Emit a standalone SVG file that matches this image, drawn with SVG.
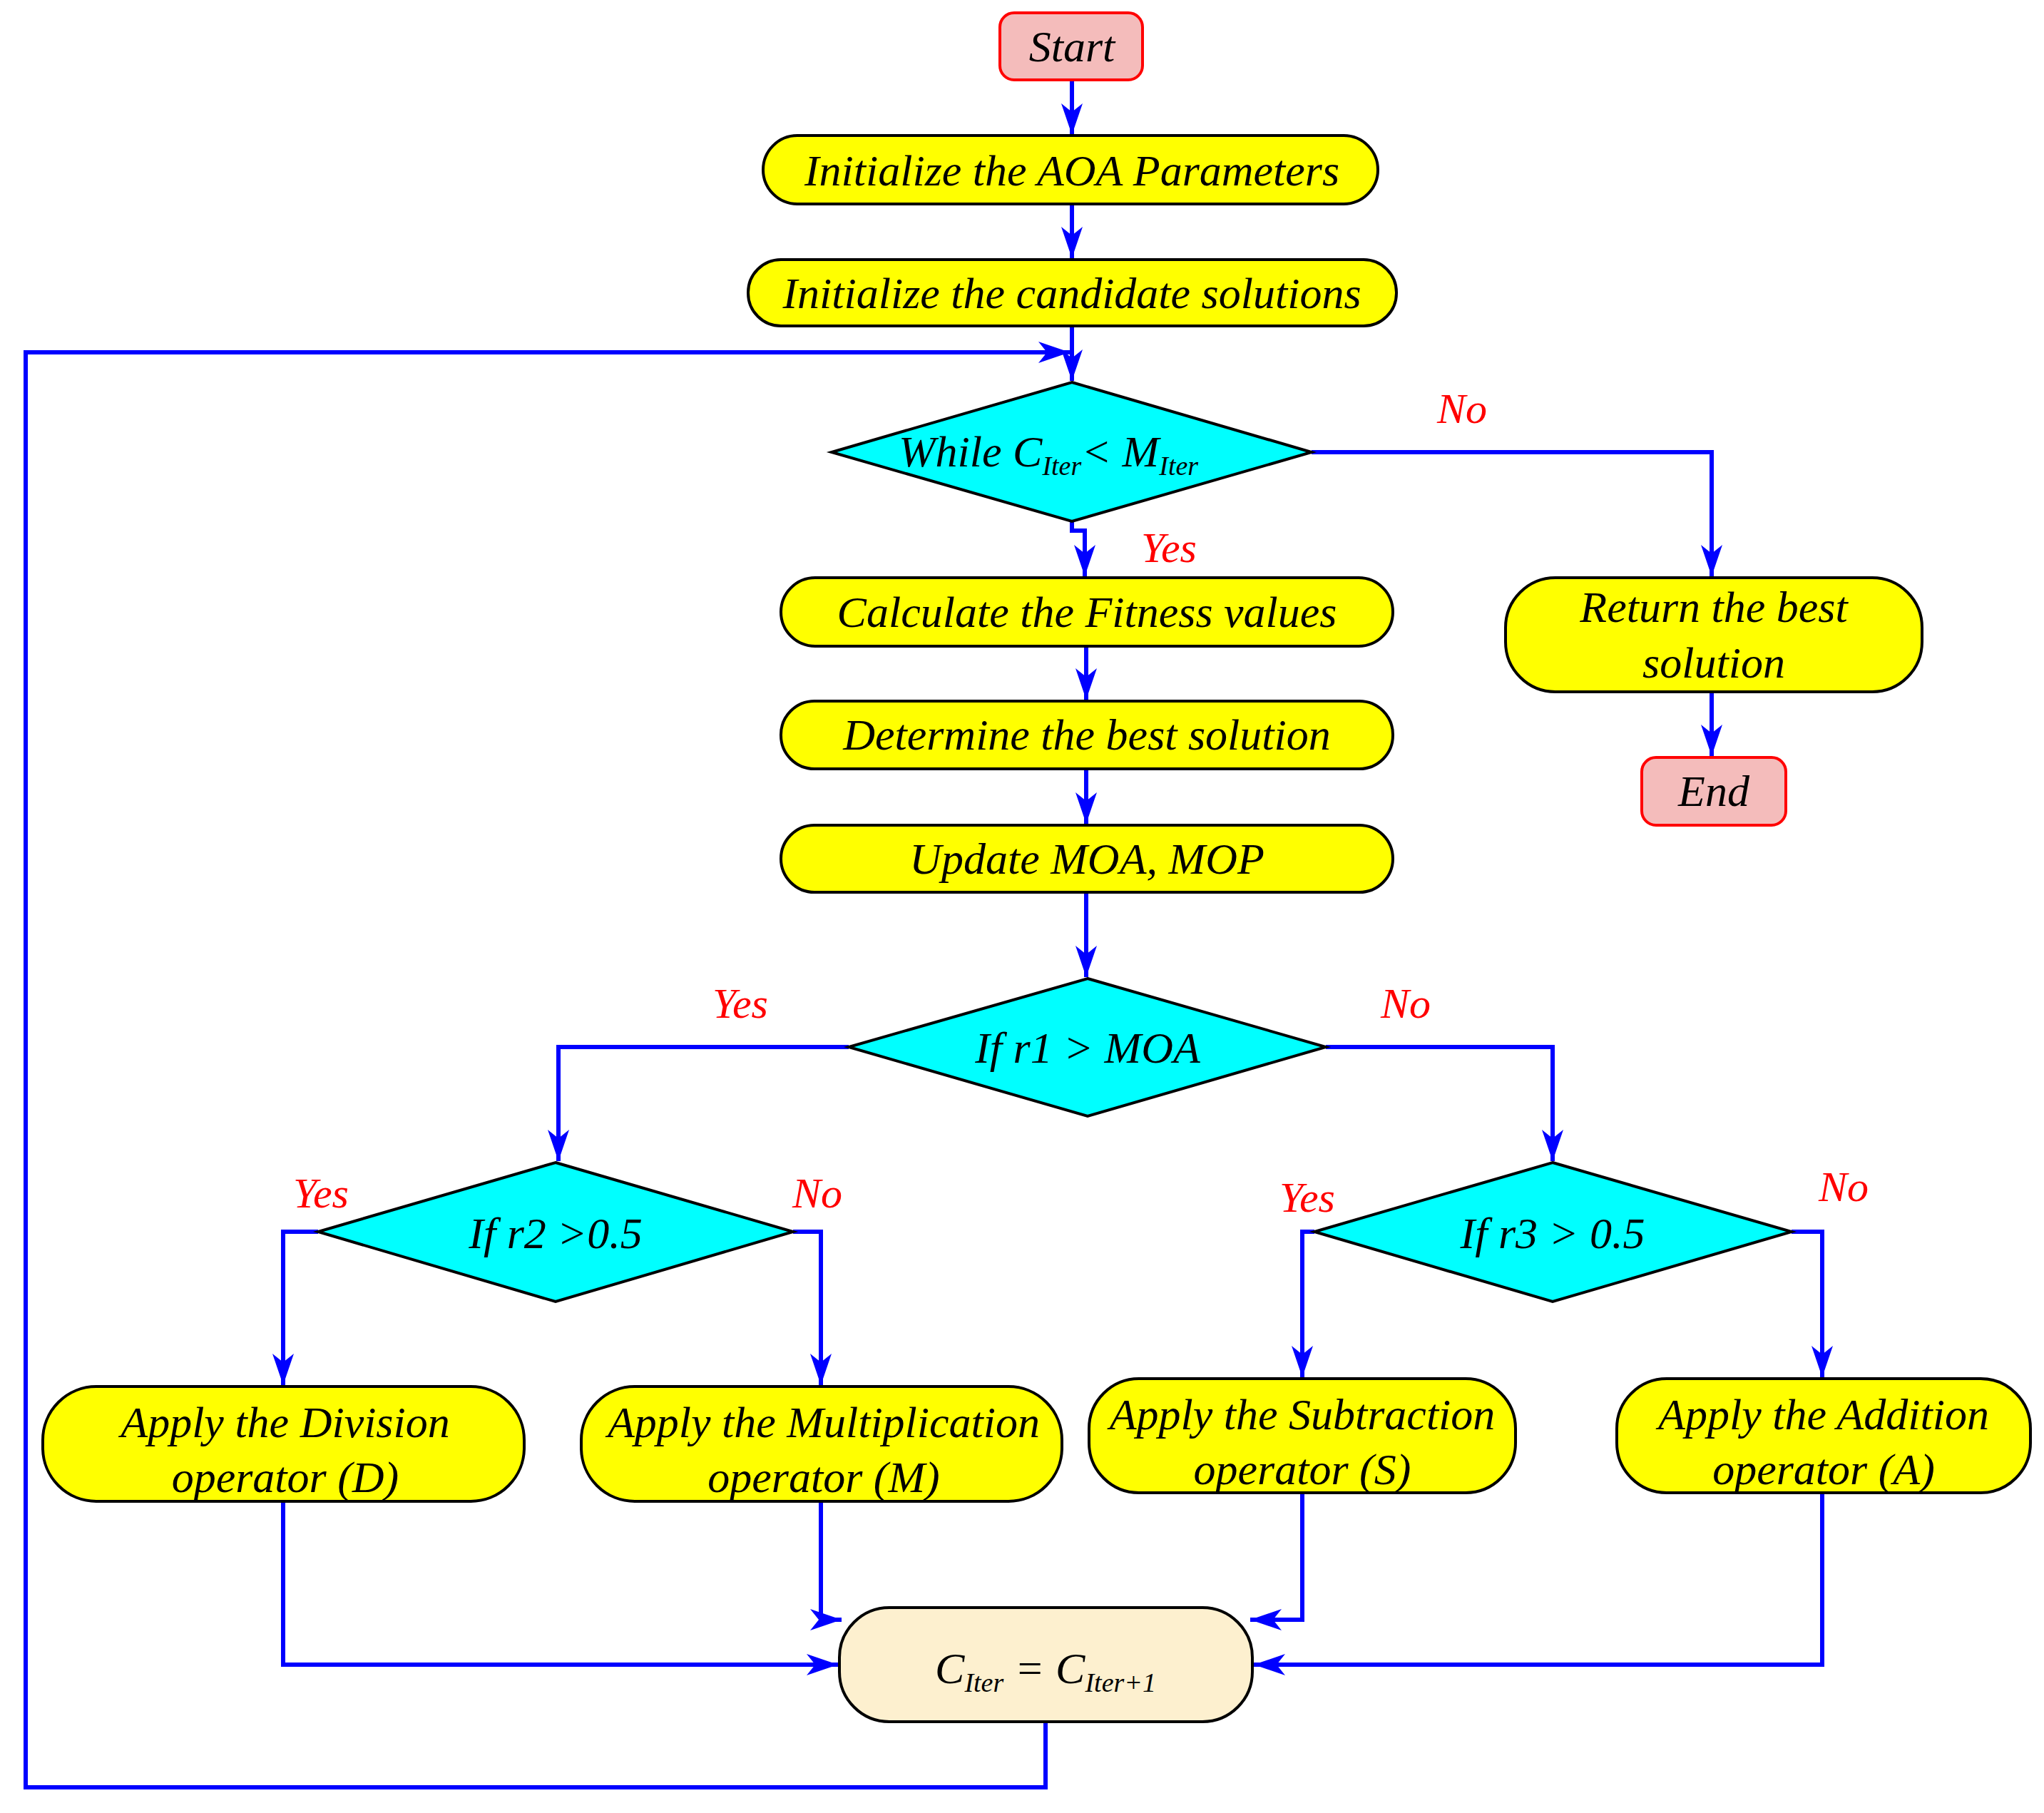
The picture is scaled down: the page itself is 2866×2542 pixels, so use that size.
<svg xmlns="http://www.w3.org/2000/svg" width="2866" height="2542" viewBox="0 0 2866 2542">
<style>
text{font-family:"Liberation Serif","Times New Roman",serif;font-style:italic;font-size:62px;text-anchor:middle;fill:#000}
.y{fill:#ffff00;stroke:#000;stroke-width:4}
.d{fill:#00ffff;stroke:#000;stroke-width:4}
.t{fill:#f4bcbb;stroke:#ff0000;stroke-width:4}
.c{fill:#fdf0cf;stroke:#000;stroke-width:4}
.l{fill:none;stroke:#0000ff;stroke-width:6}
.r{fill:#ff0000;font-size:60px}
</style>
<defs><marker id="a" markerWidth="10" markerHeight="10" refX="9" refY="5" orient="auto" markerUnits="userSpaceOnUse" viewBox="0 0 10 10"><path d="M0,0 L10,5 L0,10 L3,5 Z" fill="#0000ff" transform="scale(1)"/></marker>
<marker id="b" markerWidth="44" markerHeight="30" refX="44" refY="15" orient="auto" markerUnits="userSpaceOnUse"><path d="M0,0 L44,15 L0,30 L12,15 Z" fill="#0000ff"/></marker></defs>
<g id="connectors">
<path class="l" d="M1503,112 V189" marker-end="url(#b)"/>
<path class="l" d="M1503,286 V362" marker-end="url(#b)"/>
<path class="l" d="M1503,457 V534" marker-end="url(#b)"/>
<path class="l" d="M1503,731 V744 H1521 V808" marker-end="url(#b)"/>
<path class="l" d="M1523,906 V981" marker-end="url(#b)"/>
<path class="l" d="M1523,1078 V1155" marker-end="url(#b)"/>
<path class="l" d="M1523,1251 V1370" marker-end="url(#b)"/>
<path class="l" d="M1839,634 H2400 V808" marker-end="url(#b)"/>
<path class="l" d="M2400,970 V1060" marker-end="url(#b)"/>
<path class="l" d="M1190,1468 H783 V1628" marker-end="url(#b)"/>
<path class="l" d="M1859,1468 H2177 V1628" marker-end="url(#b)"/>
<path class="l" d="M446,1727 H397 V1942" marker-end="url(#b)"/>
<path class="l" d="M1112,1727 H1151 V1942" marker-end="url(#b)"/>
<path class="l" d="M1843,1727 H1826 V1931" marker-end="url(#b)"/>
<path class="l" d="M2512,1727 H2555 V1931" marker-end="url(#b)"/>
<path class="l" d="M397,2105 V2334 H1175" marker-end="url(#b)"/>
<path class="l" d="M1151,2105 V2271 H1180" marker-end="url(#b)"/>
<path class="l" d="M1826,2093 V2271 H1753" marker-end="url(#b)"/>
<path class="l" d="M2555,2093 V2334 H1758" marker-end="url(#b)"/>
<path class="l" d="M1466,2414 V2506 H36 V494 H1500" marker-end="url(#b)"/>
</g>
<g id="start"><rect class="t" x="1402" y="18" width="200" height="94" rx="20"/><text x="1503" y="86">Start</text></g>
<g id="init-aoa"><rect class="y" x="1070" y="190" width="862" height="96" rx="48"/><text x="1503" y="260">Initialize the AOA Parameters</text></g>
<g id="init-cand"><rect class="y" x="1049" y="364" width="909" height="93" rx="46"/><text x="1503" y="432">Initialize the candidate solutions</text></g>
<g id="while"><polygon class="d" points="1503,536 1839,634 1503,731 1166,634"/><text x="1470" y="654">While C<tspan font-size="38" dy="12">Iter</tspan><tspan dy="-12">&lt; M</tspan><tspan font-size="38" dy="12">Iter</tspan></text></g>
<g id="calc"><rect class="y" x="1095" y="810" width="858" height="96" rx="48"/><text x="1524" y="879">Calculate the Fitness values</text></g>
<g id="determine"><rect class="y" x="1095" y="983" width="858" height="95" rx="47"/><text x="1524" y="1051">Determine the best solution</text></g>
<g id="update"><rect class="y" x="1095" y="1157" width="858" height="94" rx="47"/><text x="1524" y="1225">Update MOA, MOP</text></g>
<g id="return"><rect class="y" x="2111" y="810" width="584" height="160" rx="70"/><text x="2403" y="872">Return the best</text><text x="2403" y="950">solution</text></g>
<g id="end"><rect class="t" x="2302" y="1062" width="202" height="95" rx="20"/><text x="2403" y="1130">End</text></g>
<g id="r1"><polygon class="d" points="1525,1372 1859,1468 1525,1565 1190,1468"/><text x="1525" y="1490">If r1 &gt; MOA</text></g>
<g id="r2"><polygon class="d" points="779,1630 1112,1727 779,1825 446,1727"/><text x="779" y="1750">If r2 &gt;0.5</text></g>
<g id="r3"><polygon class="d" points="2177,1630 2512,1727 2177,1825 1843,1727"/><text x="2177" y="1750">If r3 &gt; 0.5</text></g>
<g id="div"><rect class="y" x="60" y="1944" width="675" height="161" rx="75"/><text x="400" y="2015">Apply the Division</text><text x="400" y="2092">operator (D)</text></g>
<g id="mul"><rect class="y" x="815" y="1944" width="674" height="161" rx="75"/><text x="1155" y="2015">Apply the Multiplication</text><text x="1155" y="2092">operator (M)</text></g>
<g id="sub"><rect class="y" x="1527" y="1933" width="598" height="160" rx="70"/><text x="1826" y="2004">Apply the Subtraction</text><text x="1826" y="2081">operator (S)</text></g>
<g id="add"><rect class="y" x="2267" y="1933" width="580" height="160" rx="70"/><text x="2557" y="2004">Apply the Addition</text><text x="2557" y="2081">operator (A)</text></g>
<g id="citer"><rect class="c" x="1177" y="2254" width="579" height="160" rx="70"/><text x="1466" y="2360">C<tspan font-size="38" dy="12">Iter</tspan><tspan dy="-12"> = C</tspan><tspan font-size="38" dy="12">Iter+1</tspan></text></g>
<g id="labels">
<text class="r" x="2050" y="593">No</text>
<text class="r" x="1639" y="788">Yes</text>
<text class="r" x="1038" y="1427">Yes</text>
<text class="r" x="1971" y="1427">No</text>
<text class="r" x="450" y="1693">Yes</text>
<text class="r" x="1146" y="1693">No</text>
<text class="r" x="1833" y="1699">Yes</text>
<text class="r" x="2585" y="1684">No</text>
</g>
</svg>
